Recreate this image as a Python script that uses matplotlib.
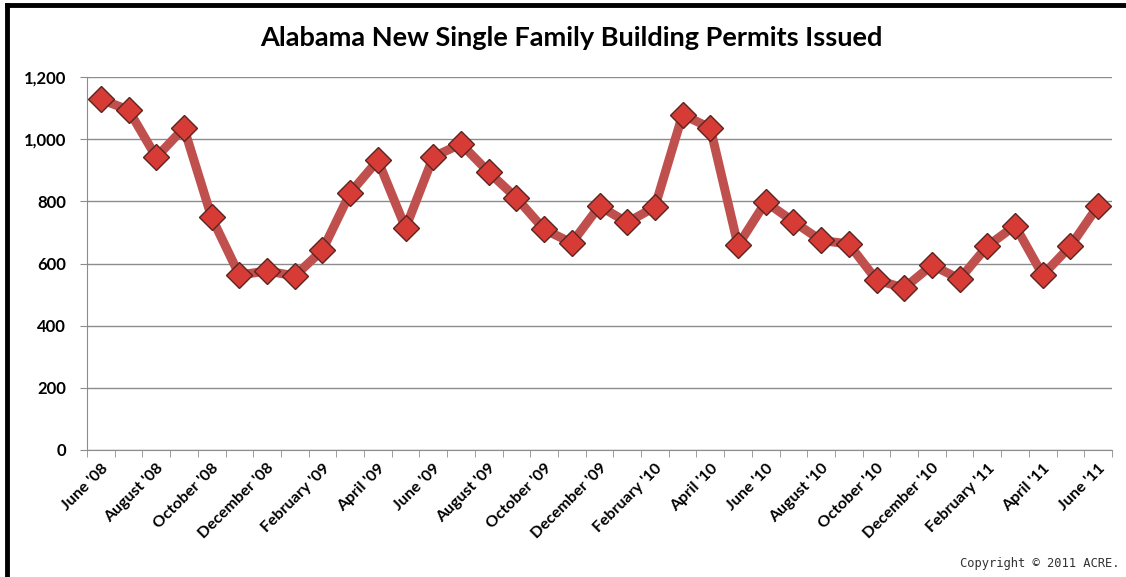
import numpy as np
import matplotlib
matplotlib.use("Agg")
import matplotlib.pyplot as plt
from matplotlib.lines import Line2D

plt.rcParams['font.family'] = ['Lato', 'DejaVu Sans']

# monthly permits, June '08 .. June '11
months = ["June '08", "July '08", "August '08", "September '08", "October '08",
          "November '08", "December '08", "January '09", "February '09",
          "March '09", "April '09", "May '09", "June '09", "July '09",
          "August '09", "September '09", "October '09", "November '09",
          "December '09", "January '10", "February '10", "March '10",
          "April '10", "May '10", "June '10", "July '10", "August '10",
          "September '10", "October '10", "November '10", "December '10",
          "January '11", "February '11", "March '11", "April '11", "May '11",
          "June '11"]
permits = [1128, 1094, 942, 1036, 748, 563, 576, 560, 643, 827, 932, 714,
           943, 985, 894, 811, 710, 666, 785, 732, 782, 1079, 1036, 658,
           798, 735, 674, 663, 547, 521, 595, 550, 656, 722, 563, 656, 786]
y_ticks = [0, 200, 400, 600, 800, 1000, 1200]

fig = plt.figure(figsize=(11.26, 5.77), dpi=100)
ax = fig.add_axes([87/1126, 127/577, 1025/1126, 373/577])

x = np.arange(len(months))
ax.plot(x, permits, color="#C0504D", lw=6.5, solid_joinstyle="miter", zorder=3)
ax.plot(x, permits, ls="none", marker="D", ms=13, mfc="#D63B36",
        mec="#5A2420", mew=1.0, zorder=4)

ax.set_xlim(-0.5, len(months) - 0.5)
ax.set_ylim(0, 1200)
ax.set_yticks(y_ticks)
ax.set_yticklabels([f"{v:,}" for v in y_ticks], fontsize=12, fontweight="bold")
ax.yaxis.grid(True, color="#8C8C8C", lw=1)
ax.set_axisbelow(True)

ax.set_xticks(x[::2])
ax.set_xticklabels(months[::2], rotation=45, ha="right", va="top",
                   rotation_mode="anchor", fontsize=11.5, fontweight="bold")
ax.tick_params(axis="x", length=0, pad=8)
ax.set_xticks(np.arange(-0.5, len(months)), minor=True)
ax.tick_params(axis="x", which="minor", length=5, color="#8C8C8C")
ax.tick_params(axis="y", length=5, color="#8C8C8C", pad=10)

for s in ["top", "right"]:
    ax.spines[s].set_visible(False)
for s in ["left", "bottom"]:
    ax.spines[s].set_color("#8C8C8C")

fig.text(571/1126, 1 - 38/577, "Alabama New Single Family Building Permits Issued",
         ha="center", va="center", fontsize=19.5, fontweight="bold")
fig.text(1120/1126, 1 - 564/577, "Copyright \u00a9 2011 ACRE.", ha="right",
         va="center", fontsize=8.7, color="#333333", family="DejaVu Sans Mono")

# frame edges visible in the screenshot
fig.add_artist(Line2D([7/1126, 7/1126], [0, 1 - 5/577], color="black", lw=3.5,
                      transform=fig.transFigure))
fig.add_artist(Line2D([7/1126, 1], [1 - 5/577, 1 - 5/577], color="black", lw=3.5,
                      transform=fig.transFigure))

fig.savefig("out.png", dpi=100)
